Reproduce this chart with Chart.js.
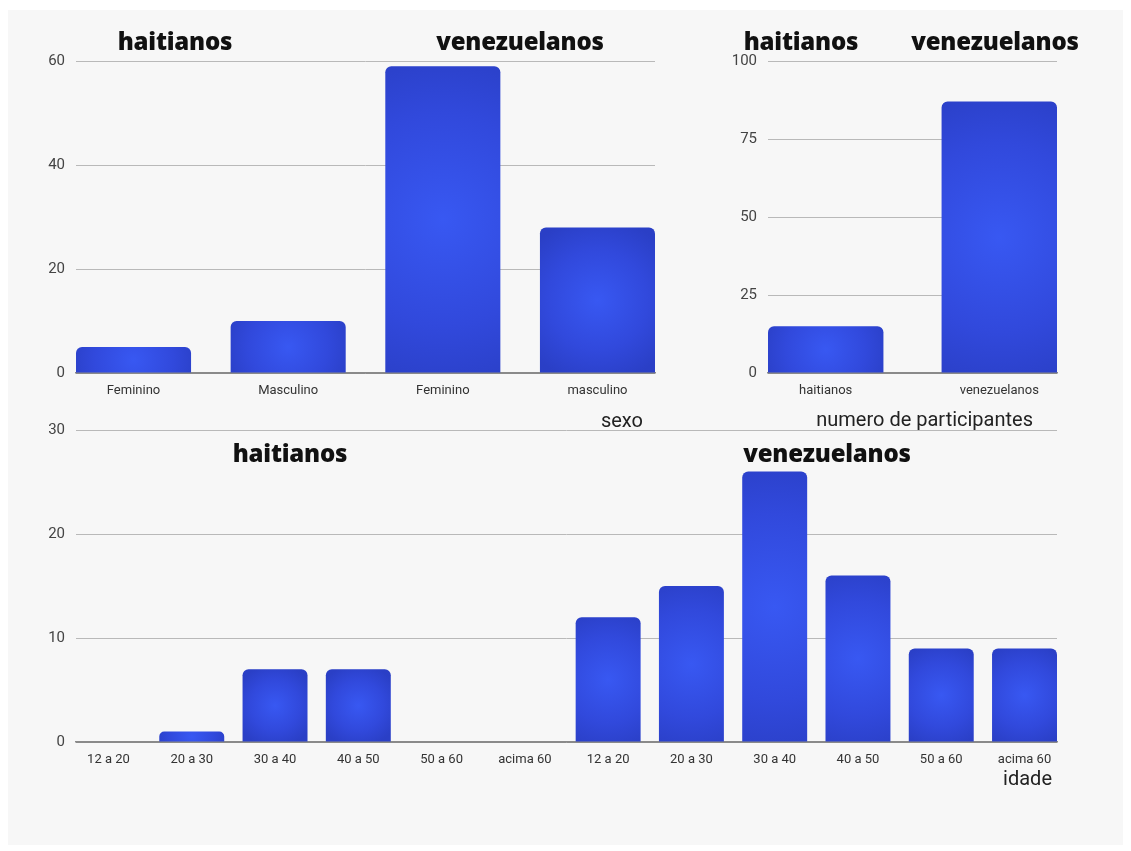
<!DOCTYPE html>
<html>
<head>
<meta charset="utf-8">
<script src="https://cdn.jsdelivr.net/npm/chart.js@4.4.0/dist/chart.umd.min.js"></script>
<style>
  body { margin: 0; width: 1131px; height: 851px; background: #fff; position: relative; overflow: hidden; }
  #panel { position: absolute; left: 8px; top: 10px; width: 1115px; height: 835px; background: #f7f7f7; }
  .box { position: absolute; }
  .grp { position: absolute; transform: translate(-50%, -50%); white-space: nowrap;
         font: 800 24px "Open Sans", sans-serif; color: #111; letter-spacing: -0.2px; }
  .ax { position: absolute; transform: translateY(-50%); white-space: nowrap;
        font: 20px Roboto, sans-serif; color: #222; }
</style>
</head>
<body>
<div id="panel"></div>

<div class="box" style="left:0;top:41px"><canvas id="sexo" width="670" height="389"></canvas></div>
<div class="box" style="left:690px;top:41px"><canvas id="total" width="380" height="389"></canvas></div>
<div class="box" style="left:0;top:410px"><canvas id="idade" width="1070" height="380"></canvas></div>

<div class="grp" style="left:175px;top:40px">haitianos</div>
<div class="grp" style="left:520px;top:40px">venezuelanos</div>
<div class="grp" style="left:801px;top:40px">haitianos</div>
<div class="grp" style="left:995px;top:40px">venezuelanos</div>
<div class="grp" style="left:290px;top:452px">haitianos</div>
<div class="grp" style="left:827px;top:452px">venezuelanos</div>

<div class="ax" style="right:488px;top:420px">sexo</div>
<div class="ax" style="right:98px;top:419px">numero de participantes</div>
<div class="ax" style="right:79px;top:778px">idade</div>

<script>
'use strict'

// sexo: haitianos (2) + venezuelanos (2)
const sexoLabels = ['Feminino', 'Masculino', 'Feminino', 'masculino'];
const sexoValues = [5, 10, 59, 28];

// numero de participantes
const totalLabels = ['haitianos', 'venezuelanos'];
const totalValues = [15, 87];

// idade: haitianos (6) + venezuelanos (6)
const idadeLabels = ['12 a 20', '20 a 30', '30 a 40', '40 a 50', '50 a 60', 'acima 60',
                     '12 a 20', '20 a 30', '30 a 40', '40 a 50', '50 a 60', 'acima 60'];
const idadeValues = [0, 1, 7, 7, 0, 0, 12, 15, 26, 16, 9, 9];

const tickFont = { family: "'Liberation Sans Narrow', Roboto, sans-serif", size: 13 };

// soft glow in the middle of each bar
function barFill(ratio) {
  return function (c) {
    if (c.type !== 'data') return '#2f48d8';
    const xs = c.chart.scales.x, ys = c.chart.scales.y;
    const cx = xs.getPixelForValue(c.parsed.x);
    const half = (xs.getPixelForValue(1) - xs.getPixelForValue(0)) * ratio / 2;
    const top = ys.getPixelForValue(c.parsed.y), base = ys.getPixelForValue(0);
    const cy = (top + base) / 2;
    if (!isFinite(cx) || !isFinite(cy) || base - top < 1) return '#2f48d8';
    const r = Math.max(half, (base - top) / 2) * 1.15;
    const g = c.chart.ctx.createRadialGradient(cx, cy, 0, cx, cy, r);
    g.addColorStop(0, '#3858f2');
    g.addColorStop(0.6, '#3149dc');
    g.addColorStop(1, '#2a3fc6');
    return g;
  };
}

function makeChart(id, labels, values, opts) {
  const pad = opts.ratio / 2;
  return new Chart(document.getElementById(id), {
    type: 'bar',
    data: {
      datasets: [{
        data: values.map((v, i) => ({ x: i, y: v })),
        backgroundColor: barFill(opts.ratio),
        borderRadius: 6,
        borderSkipped: 'start',
        categoryPercentage: 1,
        barPercentage: opts.ratio,
      }]
    },
    options: {
      responsive: false,
      animation: false,
      layout: { padding: { top: opts.padTop, right: opts.padRight, bottom: 0, left: 0 } },
      plugins: { legend: { display: false }, tooltip: { enabled: false } },
      scales: {
        x: {
          type: 'linear',
          offset: false,
          min: -pad,
          max: labels.length - 1 + pad,
          grid: { display: false },
          border: { color: '#8a8a8a', width: 1.5 },
          afterBuildTicks: s => { s.ticks = labels.map((_, i) => ({ value: i })); },
          afterFit: s => { s.height = opts.xHeight; },
          ticks: {
            autoSkip: false, maxRotation: 0, padding: 2,
            color: '#333', font: tickFont,
            callback: v => labels[v],
          },
        },
        y: {
          min: 0,
          max: opts.max,
          afterFit: s => { s.width = opts.yWidth; },
          border: { display: false },
          grid: {
            drawTicks: false,
            color: c => c.tick.value === 0 ? '#8a8a8a' : '#b9b9b9',
          },
          ticks: {
            stepSize: opts.step, padding: 11,
            color: '#444', font: { family: 'Roboto, sans-serif', size: 15 },
          },
        },
      },
    },
  });
}

makeChart('sexo', sexoLabels, sexoValues,
  { ratio: 0.744, max: 60, step: 20, padTop: 0, padRight: 15, yWidth: 76, xHeight: 57 });
makeChart('total', totalLabels, totalValues,
  { ratio: 0.665, max: 100, step: 25, padTop: 0, padRight: 13, yWidth: 78, xHeight: 57 });
makeChart('idade', idadeLabels, idadeValues,
  { ratio: 0.78, max: 30, step: 10, padTop: 20, padRight: 13, yWidth: 76, xHeight: 48 });
</script>
</body>
</html>
